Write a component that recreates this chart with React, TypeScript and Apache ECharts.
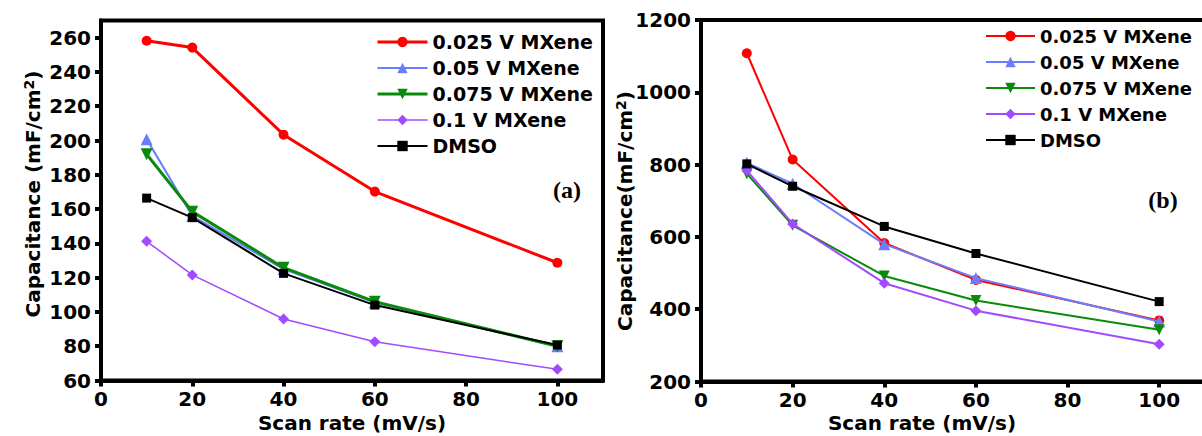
import React, { useEffect, useRef } from "react";
import * as echarts from "echarts";

// Scan rates (mV/s)
const scanRates = [10, 20, 40, 60, 100];

const seriesNames = ["0.025 V MXene", "0.05 V MXene", "0.075 V MXene", "0.1 V MXene", "DMSO"];

// Panel (a) capacitance, mF/cm²
const a025 = [258.2, 254.2, 203.4, 170.2, 128.7];
const a05 = [200.8, 156, 125, 105.5, 80];
const a075 = [192, 158.5, 125.8, 106, 80];
const a1 = [141.2, 121.6, 95.9, 82.6, 66.5];
const aDmso = [166.4, 155, 122.5, 104, 80.7];

// Panel (b) capacitance, mF/cm²
const b025 = [1108, 814, 583, 481, 369];
const b05 = [805, 747, 580, 486, 366];
const b075 = [775, 632, 492, 424, 343];
const b1 = [784, 636, 472, 396, 303];
const bDmso = [802, 740, 629, 554, 421];

const xTicks = [0, 20, 40, 60, 80, 100];
const aTicks = [60, 80, 100, 120, 140, 160, 180, 200, 220, 240, 260];
const bTicks = [200, 400, 600, 800, 1000, 1200];

const FONT = "DejaVu Sans";
const colors = ["#ff0000", "#6b7dff", "#0a8a0a", "#a04bff", "#000000"];
const symbols = ["circle", "triangle", "triangle", "diamond", "rect"];
const rotations = [0, 0, 180, 0, 0];
const aSizes = [10, 12, 12, 11, 9];
const bSizes = [10, 12, 11, 11, 9];
const aWidths = [3, 2, 3, 1.5, 2];
const bWidths = [2, 2, 2, 2, 2];

const axisLine = { show: true, lineStyle: { color: "#000", width: 4 } };
const tickStyle = (values: number[]) => ({
  show: true,
  inside: false,
  length: 6,
  customValues: values,
  lineStyle: { color: "#000", width: 4 },
});
const labelStyle = (values: number[], margin: number) => ({
  customValues: values,
  formatter: (v: number) => String(v),
  color: "#000",
  fontFamily: FONT,
  fontWeight: "bold" as const,
  fontSize: 20,
  margin,
});

const pairs = (ys: number[]) => scanRates.map((x, i) => [x, ys[i]]);

const makeSeries = (data: number[][], grid: number, sizes: number[], widths: number[]) =>
  data.map((ys, i) => ({
    type: "line",
    name: seriesNames[i],
    xAxisIndex: grid,
    yAxisIndex: grid,
    data: pairs(ys),
    symbol: symbols[i],
    symbolSize: sizes[i],
    symbolRotate: rotations[i],
    showAllSymbol: true,
    lineStyle: { color: colors[i], width: widths[i] },
    itemStyle: { color: colors[i] },
    z: 2 + i,
  }));

const legendFor = (left: number, top: number, widths: number[], fontSize: number, itemWidth: number) => ({
  orient: "vertical",
  left,
  top,
  itemWidth,
  itemHeight: 13,
  itemGap: 6,
  selectedMode: false,
  textStyle: { color: "#000", fontFamily: FONT, fontWeight: "bold", fontSize, lineHeight: 20 },
  data: seriesNames.map((n, i) => ({
    name: n,
    lineStyle: { color: colors[i], width: widths[i] },
    itemStyle: { color: colors[i] },
  })),
});

const titleFont = `bold 20px "${FONT}"`;
const richSup = {
  sup: { fontSize: 14, fontWeight: "bold", fontFamily: FONT, fill: "#000", padding: [0, 0, 9, 0] },
};

export default function App() {
  const ref = useRef<HTMLDivElement>(null);

  useEffect(() => {
    if (!ref.current) return;
    const chart = echarts.init(ref.current, undefined, { renderer: "svg" });
    const option: any = {
      animation: false,
      backgroundColor: "#ffffff",
      grid: [
        { left: 101, top: 20.5, width: 502, height: 360, show: true, borderColor: "#000", borderWidth: 4, outerBoundsMode: "none" },
        { left: 701, top: 20, width: 504, height: 361.5, show: true, borderColor: "#000", borderWidth: 4, outerBoundsMode: "none" },
      ],
      xAxis: [0, 1].map((g) => ({
        type: "value",
        gridIndex: g,
        min: 0,
        max: 110,
        interval: 20,
        axisLine,
        axisTick: tickStyle(xTicks),
        axisLabel: labelStyle(xTicks, 8),
        splitLine: { show: false },
      })),
      yAxis: [
        {
          type: "value",
          gridIndex: 0,
          min: 60,
          max: 270,
          interval: 20,
          axisLine,
          axisTick: tickStyle(aTicks),
          axisLabel: labelStyle(aTicks, 10),
          splitLine: { show: false },
        },
        {
          type: "value",
          gridIndex: 1,
          min: 200,
          max: 1200,
          interval: 200,
          axisLine,
          axisTick: tickStyle(bTicks),
          axisLabel: labelStyle(bTicks, 10),
          splitLine: { show: false },
        },
      ],
      legend: [legendFor(371, 27, aWidths, 19, 50), legendFor(980, 21, bWidths, 18, 49)],
      series: [
        ...makeSeries([a025, a05, a075, a1, aDmso], 0, aSizes, aWidths),
        ...makeSeries([b025, b05, b075, b1, bDmso], 1, bSizes, bWidths),
      ],
      graphic: [
        { type: "text", x: 352, y: 423, style: { text: "Scan rate (mV/s)", font: titleFont, fill: "#000", align: "center", verticalAlign: "middle" } },
        { type: "text", x: 922, y: 423, style: { text: "Scan rate (mV/s)", font: titleFont, fill: "#000", align: "center", verticalAlign: "middle" } },
        {
          type: "text",
          x: 33,
          y: 194,
          rotation: Math.PI / 2,
          style: { text: "Capacitance (mF/cm{sup|2})", font: titleFont, fill: "#000", align: "center", verticalAlign: "middle", rich: richSup },
        },
        {
          type: "text",
          x: 625,
          y: 211,
          rotation: Math.PI / 2,
          style: { text: "Capacitance(mF/cm{sup|2})", font: titleFont, fill: "#000", align: "center", verticalAlign: "middle", rich: richSup },
        },
        { type: "text", x: 567, y: 190, style: { text: "(a)", font: 'bold 24px "Liberation Serif"', fill: "#000", align: "center", verticalAlign: "middle" } },
        { type: "text", x: 1163, y: 200, style: { text: "(b)", font: 'bold 24px "Liberation Serif"', fill: "#000", align: "center", verticalAlign: "middle" } },
      ],
    };
    chart.setOption(option);
    return () => chart.dispose();
  }, []);

  return <div ref={ref} style={{ position: "fixed", left: 0, top: 0, width: 1202, height: 436 }} />;
}
